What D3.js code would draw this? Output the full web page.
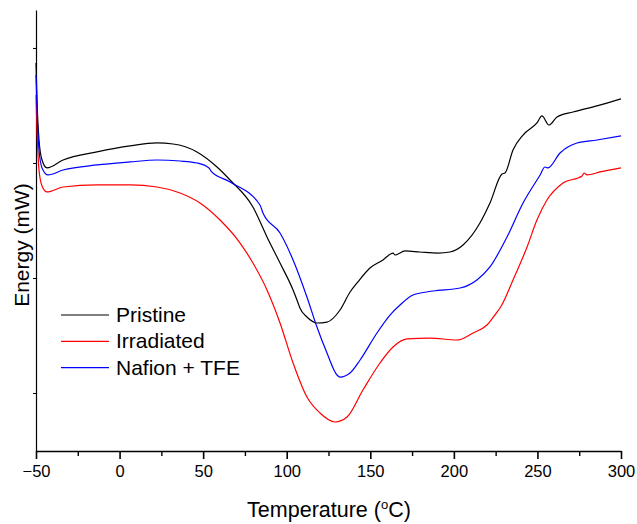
<!DOCTYPE html>
<html>
<head>
<meta charset="utf-8">
<script src="https://d3js.org/d3.v7.min.js"></script>
<style>
  body { margin: 0; background: #fff; }
  text { font-family: "Liberation Sans", Arial, sans-serif; fill: #000; }
</style>
</head>
<body>
<div id="chart"></div>
<script>
// DSC traces, temperature (C) vs energy (arbitrary units)
var pristineT = [-50, -49.4, -48.2, -46.4, -43.4, -33.8, -13.5, 6.2, 22.4, 32.0, 46.3, 58.3, 66.1, 79.8, 88.2, 96.0, 103.8, 106.8, 107.9, 112.1, 118.1, 124.1, 131.9, 137.9, 142.1, 149.8, 157.6, 163.6, 164.8, 170.8, 179.7, 190.5, 197.7, 205.5, 215.6, 221.6, 228.8, 230.6, 235.4, 241.4, 249.7, 252.7, 256.9, 261.7, 271.3, 285.6, 300];
var pristineE = [28.70, 25.48, 22.0, 20.26, 19.57, 20.26, 20.96, 21.48, 21.74, 21.65, 20.96, 19.65, 18.52, 16.17, 13.57, 11.30, 8.96, 7.83, 7.39, 6.61, 6.09, 6.17, 7.22, 8.78, 9.57, 10.87, 11.57, 12.17, 12.0, 12.35, 12.26, 12.17, 12.26, 12.87, 14.78, 16.52, 19.04, 19.13, 21.13, 22.43, 23.48, 24.09, 23.30, 24.0, 24.43, 24.96, 25.57];

var irradiatedT = [-50, -49.4, -48.2, -46.4, -43.4, -33.8, -13.5, 6.2, 22.4, 36.2, 48.1, 60.1, 72.1, 79.8, 88.2, 96.0, 103.8, 112.1, 119.9, 128.9, 136.1, 145.6, 155.8, 163.6, 172.0, 185.7, 201.9, 211.5, 219.8, 225.8, 227.6, 235.4, 243.8, 249.7, 255.7, 265.3, 276.7, 277.9, 279.7, 287.5, 300];
var irradiatedE = [25.91, 22.87, 19.39, 18.0, 17.48, 17.91, 18.09, 18.09, 17.91, 17.39, 16.52, 15.04, 13.04, 11.30, 8.96, 6.09, 2.61, -0.35, -1.74, -2.52, -2.09, 0.26, 2.61, 4.0, 4.70, 4.78, 4.61, 5.22, 5.91, 7.04, 7.39, 9.83, 12.70, 15.04, 16.78, 18.26, 18.87, 19.13, 18.96, 19.22, 19.57];

var nafionT = [-50, -49.4, -48.2, -46.4, -42.8, -33.8, -13.5, 6.2, 22.4, 36.2, 46.3, 53.5, 54.7, 66.1, 84.0, 85.8, 96.0, 103.8, 112.1, 118.1, 124.1, 130.1, 131.9, 137.9, 143.9, 154.0, 161.8, 167.8, 175.6, 187.5, 203.7, 213.8, 221.6, 231.8, 241.4, 251.6, 254.5, 256.3, 263.5, 273.7, 285.6, 300];
var nafionE = [27.65, 24.61, 21.13, 19.57, 18.96, 19.39, 19.83, 20.09, 20.26, 20.17, 20.0, 19.57, 19.30, 18.35, 16.35, 15.65, 13.91, 11.57, 8.35, 5.74, 3.48, 1.57, 1.39, 1.74, 2.87, 5.22, 6.78, 7.65, 8.52, 8.87, 9.13, 9.83, 10.96, 13.57, 16.52, 18.96, 19.65, 19.57, 20.87, 21.74, 22.0, 22.35];

var seriesNames = ["Pristine", "Irradiated", "Nafion + TFE"];
var seriesColors = ["#000000", "#ff0000", "#0000ff"];
var xTicks = [-50, 0, 50, 100, 150, 200, 250, 300];
var xMinorTicks = [-25, 25, 75, 125, 175, 225, 275];
var yTicks = [0, 10, 20, 30];

var W = 637, H = 524;
var svg = d3.select("#chart").append("svg").attr("width", W).attr("height", H);

var x = d3.scaleLinear().domain([-50, 300]).range([36, 621]);
var y = d3.scaleLinear().domain([-5.04, 33.3]).range([451, 10]);

// axes
var xAxis = svg.append("g").attr("transform", "translate(0,451)")
    .call(d3.axisBottom(x).tickValues(xTicks).tickSize(8).tickPadding(6).tickSizeOuter(0));
xAxis.select(".domain").attr("stroke-width", 1.6);
xAxis.selectAll(".tick line").attr("stroke-width", 1.6);
xAxis.selectAll(".tick text").style("font-size", "16.5px").style("font-family", "Liberation Sans, Arial, sans-serif");

var xMinor = svg.append("g").attr("transform", "translate(0,451)")
    .call(d3.axisBottom(x).tickValues(xMinorTicks).tickSize(5).tickFormat("").tickSizeOuter(0));
xMinor.select(".domain").remove();
xMinor.selectAll(".tick line").attr("stroke-width", 1.4);

var yAxis = svg.append("g").attr("transform", "translate(36,0)")
    .call(d3.axisLeft(y).tickValues(yTicks).tickSize(3).tickFormat("").tickSizeOuter(0));
yAxis.select(".domain").attr("stroke-width", 1.2);
yAxis.selectAll(".tick line").attr("stroke-width", 1);

// curves
var line = d3.line()
    .x(function (d) { return x(d[0]); })
    .y(function (d) { return y(d[1]); })
    .curve(d3.curveMonotoneX);

var series = [
  d3.zip(pristineT, pristineE),
  d3.zip(irradiatedT, irradiatedE),
  d3.zip(nafionT, nafionE)
];

svg.selectAll("path.trace")
    .data(series)
    .enter()
    .append("path")
    .attr("class", "trace")
    .attr("fill", "none")
    .attr("stroke", function (d, i) { return seriesColors[i]; })
    .attr("stroke-width", 1.2)
    .attr("d", line);

// axis titles
var xt = svg.append("text")
    .attr("x", 329)
    .attr("y", 517)
    .attr("text-anchor", "middle")
    .style("font-size", "21.5px");
xt.append("tspan").text("Temperature (");
xt.append("tspan").attr("dy", -8).style("font-size", "13px").text("o");
xt.append("tspan").attr("dy", 8).text("C)");

svg.append("text")
    .attr("transform", "translate(29,245) rotate(-90)")
    .attr("text-anchor", "middle")
    .style("font-size", "21px")
    .text("Energy (mW)");

// legend
var legend = svg.selectAll("g.legend")
    .data(seriesNames)
    .enter()
    .append("g")
    .attr("class", "legend")
    .attr("transform", function (d, i) { return "translate(61," + (315 + i * 26.3) + ")"; });

legend.append("line")
    .attr("x1", 0).attr("x2", 48)
    .attr("stroke", function (d, i) { return seriesColors[i]; })
    .attr("stroke-width", 1.2);

legend.append("text")
    .attr("x", 55)
    .attr("y", 7)
    .style("font-size", "21px")
    .text(function (d) { return d; });
</script>
</body>
</html>
